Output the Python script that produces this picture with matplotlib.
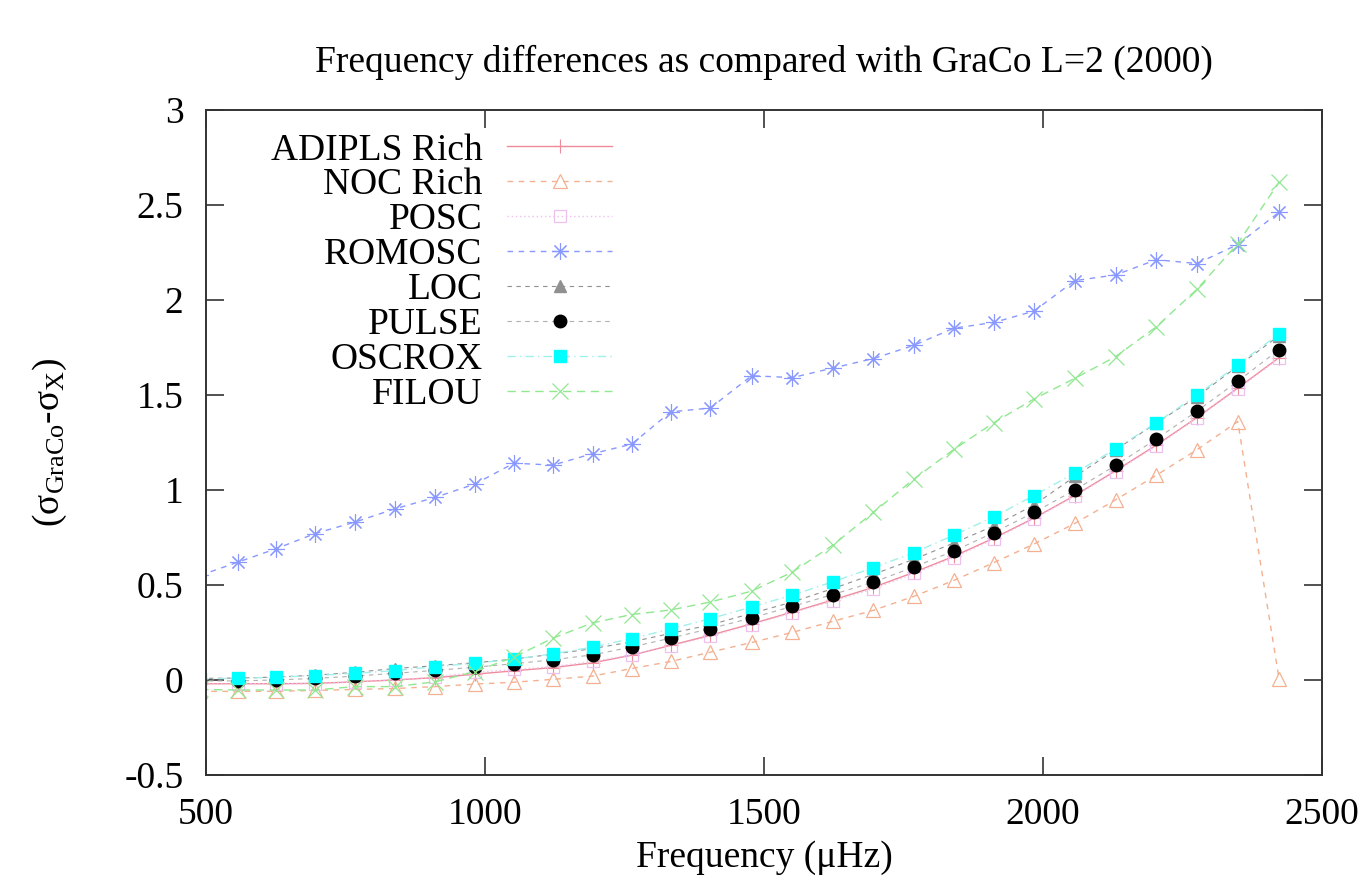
import matplotlib
matplotlib.use('Agg')
import matplotlib.pyplot as plt
import numpy as np

plt.rcParams['font.family'] = ['Liberation Serif', 'DejaVu Serif']
plt.rcParams['mathtext.fontset'] = 'custom'
plt.rcParams['mathtext.rm'] = 'Liberation Serif'
plt.rcParams['mathtext.it'] = 'Liberation Serif:italic'

# frequencies (muHz), first point lies just left of the plotted range
freq = [490, 558, 626, 696, 767, 839, 911, 982, 1052, 1122, 1193, 1263, 1333, 1404,
        1478, 1551, 1623, 1696, 1769, 1840, 1912, 1984, 2057, 2130, 2203, 2276, 2349, 2423]

adipls = [-0.02, -0.02, -0.02, -0.018, -0.01, 0.0, 0.012, 0.03, 0.048, 0.065, 0.09, 0.13, 0.182, 0.235,
          0.295, 0.357, 0.42, 0.487, 0.566, 0.65, 0.746, 0.851, 0.97, 1.10, 1.235, 1.38, 1.535, 1.695]
noc = [-0.06, -0.06, -0.06, -0.055, -0.05, -0.045, -0.035, -0.022, -0.012, 0.003, 0.02, 0.06, 0.097, 0.146,
       0.197, 0.25, 0.308, 0.366, 0.44, 0.523, 0.617, 0.715, 0.823, 0.947, 1.076, 1.211, 1.359, 0.005]
posc = [-0.02, -0.02, -0.02, -0.02, -0.01, 0.0, 0.015, 0.04, 0.055, 0.07, 0.097, 0.132, 0.178, 0.229,
        0.291, 0.353, 0.414, 0.479, 0.56, 0.643, 0.74, 0.847, 0.966, 1.095, 1.23, 1.377, 1.53, 1.691]
romosc = [0.55, 0.62, 0.69, 0.77, 0.83, 0.90, 0.96, 1.03, 1.14, 1.13, 1.19, 1.24, 1.41, 1.43,
          1.60, 1.59, 1.64, 1.69, 1.76, 1.85, 1.88, 1.94, 2.10, 2.13, 2.21, 2.19, 2.29, 2.46]
loc_ = [0.008, 0.01, 0.015, 0.025, 0.04, 0.06, 0.075, 0.09, 0.11, 0.135, 0.165, 0.20, 0.245, 0.29,
        0.35, 0.41, 0.48, 0.555, 0.635, 0.72, 0.81, 0.92, 1.07, 1.21, 1.35, 1.49, 1.65, 1.81]
pulse = [-0.005, -0.005, 0.0, 0.008, 0.02, 0.035, 0.05, 0.067, 0.085, 0.106, 0.132, 0.173, 0.22, 0.27,
         0.326, 0.387, 0.449, 0.514, 0.594, 0.678, 0.775, 0.881, 0.999, 1.128, 1.267, 1.414, 1.571, 1.737]
oscrox = [0.005, 0.009, 0.014, 0.023, 0.035, 0.049, 0.07, 0.088, 0.109, 0.137, 0.173, 0.217, 0.268, 0.322,
          0.384, 0.446, 0.516, 0.59, 0.67, 0.761, 0.858, 0.970, 1.088, 1.215, 1.353, 1.497, 1.658, 1.82]
filou = [-0.05, -0.053, -0.053, -0.053, -0.035, -0.035, -0.01, 0.044, 0.12, 0.22, 0.30, 0.344, 0.368, 0.41,
         0.467, 0.567, 0.708, 0.881, 1.057, 1.212, 1.353, 1.478, 1.586, 1.70, 1.857, 2.055, 2.295, 2.618]

fig = plt.figure(figsize=(13.69, 8.81), dpi=100)
ax = fig.add_axes([0.1503, 0.1203, 0.8154, 0.7554])

fs = 27
ax.plot(freq, adipls, color='#ee8c9c', ls='-', lw=1.0, marker='+', ms=10, mew=0.8, label='ADIPLS Rich')
ax.plot(freq, noc, color='#f4b090', ls=(0, (4, 4)), lw=1.0, marker='^', ms=10, mfc='none', mew=0.9, label='NOC Rich')
ax.plot(freq, posc, color='#eec0ee', ls=(0, (1, 2)), lw=1.0, marker='s', ms=9, mfc='none', mew=0.9, label='POSC')
ax.plot(freq, romosc, color='#8898ff', ls=(0, (4, 4)), lw=1.0, marker=(8, 2, 0), ms=12, mew=0.8, label='ROMOSC')
ax.plot(freq, loc_, color='#909090', ls=(0, (4, 4)), lw=0.8, marker='^', ms=9, mec='#909090', label='LOC')
ax.plot(freq, pulse, color='#b0b0b0', ls=(0, (4, 4)), lw=0.8, marker='o', ms=9, mfc='black', mec='black', label='PULSE')
ax.plot(freq, oscrox, color='#a0f0ec', ls=(0, (6, 3, 1, 3)), lw=1.0, marker='s', ms=9, mfc='#00ffff', mec='#00ffff', label='OSCROX')
ax.plot(freq, filou, color='#90e890', ls=(0, (6, 4)), lw=1.0, marker='x', ms=11, mew=0.9, label='FILOU')

ax.set_xlim(500, 2500)
ax.set_ylim(-0.5, 3)
ax.set_xticks([500, 1000, 1500, 2000, 2500])
ax.set_xticklabels(['500', '1000', '1500', '2000', '2500'])
ax.set_yticks([-0.5, 0, 0.5, 1, 1.5, 2, 2.5, 3])
ax.set_yticklabels(['-0.5', '0', '0.5', '1', '1.5', '2', '2.5', '3'])
ax.tick_params(direction='in', length=13, width=1.2, color='#333333', labelsize=fs,
               top=True, right=True, pad=16)
for s in ax.spines.values():
    s.set_color('#333333')
    s.set_linewidth(1.4)

ax.set_title('Frequency differences as compared with GraCo L=2 (2000)', fontsize=fs, pad=27)
ax.set_xlabel('Frequency (μHz)', fontsize=fs, labelpad=6)
ax.set_ylabel(r'(σ$_{\mathrm{GraCo}}$-σ$_{\mathrm{X}}$)', fontsize=fs, labelpad=40)

leg = ax.legend(loc='upper right', bbox_to_anchor=(612 / 1369, 1 - 133 / 881),
                bbox_transform=fig.transFigure, frameon=False, markerfirst=False,
                numpoints=1, fontsize=fs, handlelength=2.8, handletextpad=0.65,
                labelspacing=0.01, borderpad=0, borderaxespad=0)

fig.savefig('out.png', dpi=100)
